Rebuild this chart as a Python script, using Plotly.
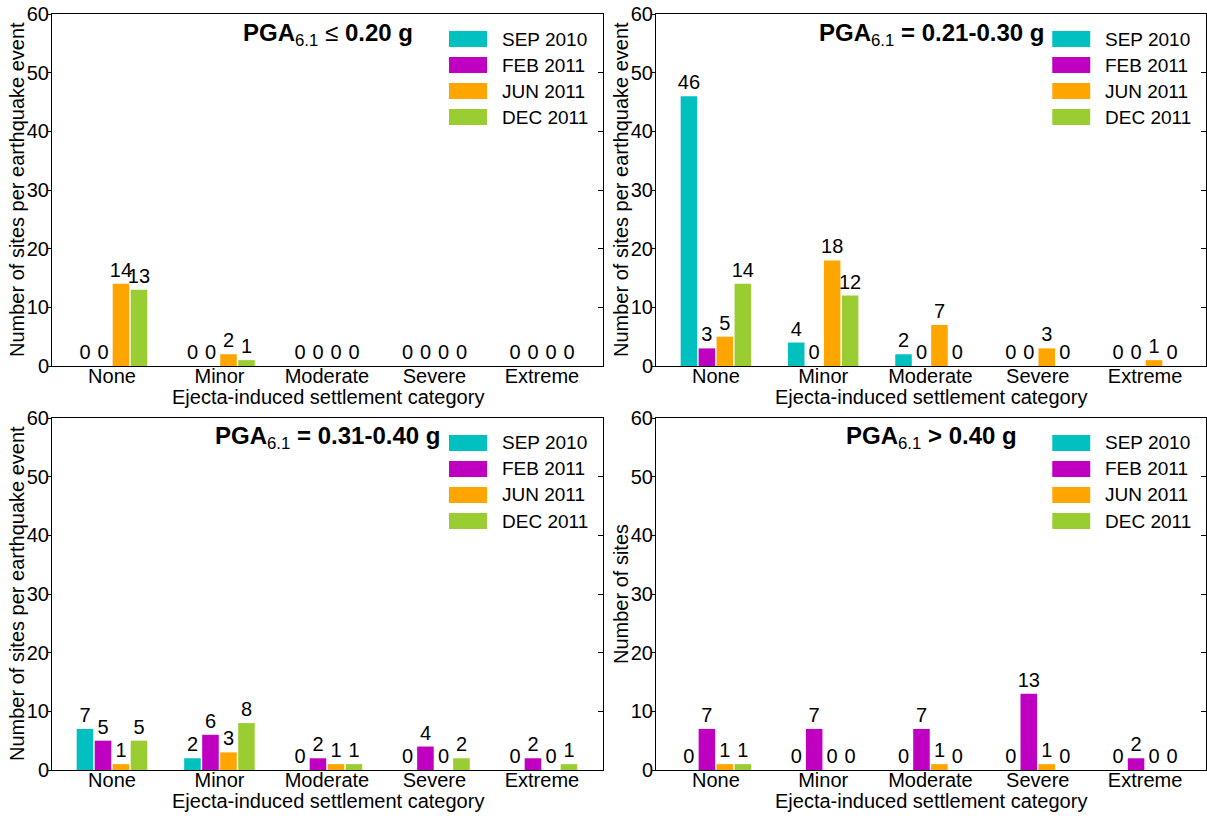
import plotly.graph_objects as go

# Settlement categories and earthquake events
categories = ["None", "Minor", "Moderate", "Severe", "Extreme"]
events = ["SEP 2010", "FEB 2011", "JUN 2011", "DEC 2011"]
event_colors = ["#00C0C0", "#C000C0", "#FFA500", "#9ACD32"]

# Site counts per PGA bin: one list per event (SEP, FEB, JUN, DEC)
pga_le_020 = [
    [0, 0, 0, 0, 0],
    [0, 0, 0, 0, 0],
    [14, 2, 0, 0, 0],
    [13, 1, 0, 0, 0],
]
pga_021_030 = [
    [46, 4, 2, 0, 0],
    [3, 0, 0, 0, 0],
    [5, 18, 7, 3, 1],
    [14, 12, 0, 0, 0],
]
pga_031_040 = [
    [7, 2, 0, 0, 0],
    [5, 6, 2, 4, 2],
    [1, 3, 1, 0, 0],
    [5, 8, 1, 2, 1],
]
pga_gt_040 = [
    [0, 0, 0, 0, 0],
    [7, 7, 7, 13, 2],
    [1, 0, 1, 1, 0],
    [1, 0, 0, 0, 0],
]

panel_titles = [
    "<b>PGA</b><sub>6.1</sub> ≤ <b>0.20 g</b>",
    "<b>PGA</b><sub>6.1</sub><b> = 0.21-0.30 g</b>",
    "<b>PGA</b><sub>6.1</sub><b> = 0.31-0.40 g</b>",
    "<b>PGA</b><sub>6.1</sub><b> > 0.40 g</b>",
]
y_titles = [
    "Number of sites per earthquake event",
    "Number of sites per earthquake event",
    "Number of sites per earthquake event",
    "Number of sites",
]
x_title = "Ejecta-induced settlement category"
panels = [pga_le_020, pga_021_030, pga_031_040, pga_gt_040]

FONT = "Liberation Sans, Arial, sans-serif"
W, H = 1207, 816

# Panel placement (pixels): left, right, top, bottom
boxes = [
    (52, 603, 14, 366),
    (656, 1206, 14, 366),
    (52, 603, 418, 770),
    (656, 1206, 418, 770),
]

fig = go.Figure()
layout = dict(
    width=W, height=H,
    margin=dict(l=0, r=0, t=0, b=0, autoexpand=False),
    paper_bgcolor="white", plot_bgcolor="white",
    barmode="group", bargap=0.33, bargroupgap=0.08,
    showlegend=False,
    font=dict(family=FONT, size=20, color="black"),
)
shapes, annotations = [], []

for i, (data, box) in enumerate(zip(panels, boxes)):
    n = i + 1
    xa, ya = f"x{n if n > 1 else ''}", f"y{n if n > 1 else ''}"
    xk, yk = f"xaxis{n if n > 1 else ''}", f"yaxis{n if n > 1 else ''}"
    l, r, t, b = box
    ph = b - t
    xdom = [l / W, r / W]
    ydom = [1 - b / H, 1 - t / H]

    for vals, name, col in zip(data, events, event_colors):
        fig.add_trace(go.Bar(
            x=categories, y=vals, name=name, xaxis=xa, yaxis=ya,
            marker=dict(color=col, line=dict(width=0)),
            text=vals, texttemplate="%{y}", textposition="outside",
            textfont=dict(family=FONT, size=20, color="black"),
            constraintext="none", cliponaxis=False,
        ))

    layout[xk] = dict(
        domain=xdom, anchor=ya, range=[-0.558, 4.568], automargin=False,
        showline=True, linecolor="black", linewidth=1, mirror=True,
        ticks="", showgrid=False, zeroline=False, ticklabelstandoff=-8,
        tickfont=dict(size=20, color="black"),
    )
    layout[yk] = dict(
        domain=ydom, anchor=xa, range=[0, 60], dtick=10, automargin=False,
        showline=True, linecolor="black", linewidth=1, mirror=True,
        ticks="outside", ticklen=4, tickcolor="black", ticklabelstandoff=-6,
        showgrid=False, zeroline=False,
        tickfont=dict(size=20, color="black"),
    )
    # inward ticks along the right edge
    ok = f"yaxis{n + 4}"
    fig.add_trace(go.Scatter(x=[], y=[], xaxis=xa, yaxis=f"y{n + 4}", showlegend=False))
    layout[ok] = dict(
        overlaying=ya, anchor=xa, side="right", range=[0, 60], dtick=10,
        ticks="inside", ticklen=5, tickcolor="black", showticklabels=False,
        showline=False, showgrid=False, zeroline=False, automargin=False,
    )

    # axis titles
    annotations.append(dict(
        text=x_title, xref=f"{xa} domain", yref=f"{ya} domain",
        x=0.5, y=-31 / ph, xanchor="center", yanchor="middle", showarrow=False,
        font=dict(family=FONT, size=20, color="black"),
    ))
    annotations.append(dict(
        text=y_titles[i], xref="paper", yref=f"{ya} domain",
        x=(l - 35) / W, y=0.5, xanchor="center", yanchor="middle",
        textangle=-90, showarrow=False,
        font=dict(family=FONT, size=20, color="black"),
    ))
    # panel title
    annotations.append(dict(
        text=panel_titles[i], xref=f"{xa} domain", yref=f"{ya} domain",
        x=0.5, y=1 - 20 / ph, xanchor="center", yanchor="middle", showarrow=False,
        font=dict(family=FONT, size=24, color="black"),
    ))
    # legend swatches and labels
    for k, (name, col) in enumerate(zip(events, event_colors)):
        yc = 1 - (25 + 26 * k) / ph
        shapes.append(dict(
            type="rect", xref=f"{xa} domain", yref=f"{ya} domain",
            x0=0.7205, x1=0.7895, y0=yc - 8 / ph, y1=yc + 8 / ph,
            fillcolor=col, line=dict(width=0),
        ))
        annotations.append(dict(
            text=name, xref=f"{xa} domain", yref=f"{ya} domain",
            x=0.813, y=yc, xanchor="left", yanchor="middle", showarrow=False,
            font=dict(family=FONT, size=19, color="black"),
        ))

layout["shapes"] = shapes
layout["annotations"] = annotations
fig.update_layout(**layout)
fig.write_html("out.html")
